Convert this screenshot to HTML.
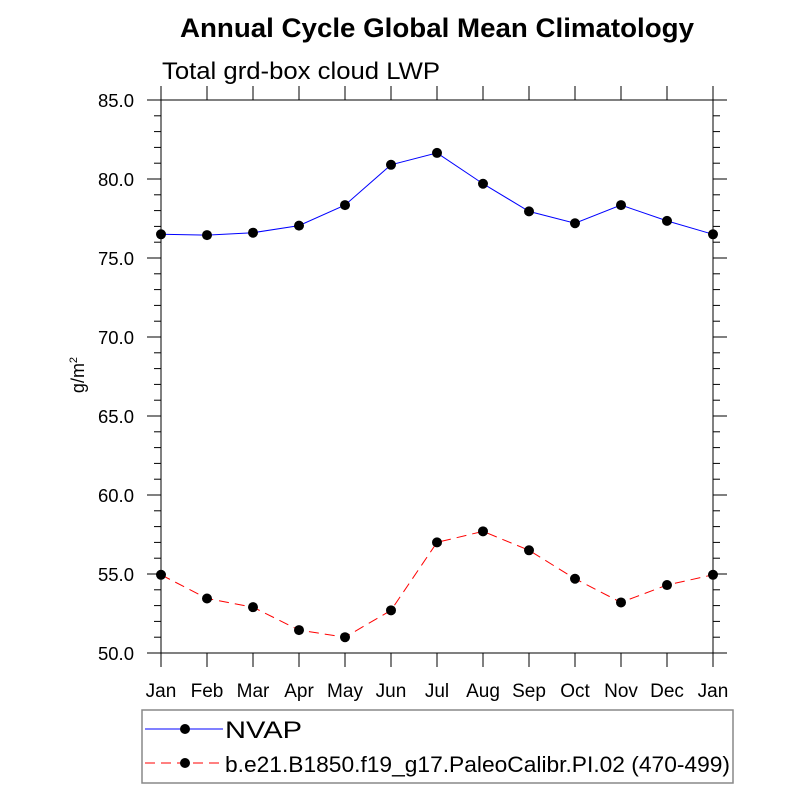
<!DOCTYPE html>
<html><head><meta charset="utf-8"><style>
body{margin:0;background:#fff;}
svg{display:block;font-family:"Liberation Sans",sans-serif;}
</style></head><body>
<svg id="chart" width="800" height="800">
<text x="180" y="37" font-size="27" font-weight="bold" textLength="514" lengthAdjust="spacingAndGlyphs">Annual Cycle Global Mean Climatology</text>
<text x="162" y="79" font-size="24" textLength="278" lengthAdjust="spacingAndGlyphs">Total grd-box cloud LWP</text>
<text transform="translate(84,375) rotate(-90)" text-anchor="middle" font-size="18">g/m<tspan dy="-7" font-size="11">2</tspan></text>
<g id="axes"></g>
<g id="series"></g>
<g>
<rect x="142" y="710" width="591" height="73" fill="#fff" stroke="#888" stroke-width="1.5"/>
<g>
<line x1="145" y1="729" x2="223" y2="729" stroke="#0000ff" stroke-width="1"/>
<circle cx="185" cy="729" r="5" fill="#000"/>
<text x="225" y="738" font-size="24" textLength="77" lengthAdjust="spacingAndGlyphs">NVAP</text></g>
<g>
<line x1="145" y1="763" x2="223" y2="763" stroke="#ff0000" stroke-width="1" stroke-dasharray="10,6"/>
<circle cx="185" cy="763" r="5" fill="#000"/>
<text x="225" y="772" font-size="22" textLength="505" lengthAdjust="spacingAndGlyphs">b.e21.B1850.f19_g17.PaleoCalibr.PI.02 (470-499)</text></g>
</g>
</svg>
<script>
const months = ["Jan","Feb","Mar","Apr","May","Jun","Jul","Aug","Sep","Oct","Nov","Dec","Jan"];
const nvap = [76.5,76.45,76.6,77.05,78.35,80.9,81.65,79.7,77.95,77.2,78.35,77.35,76.5];
const model = [54.95,53.45,52.9,51.45,51.0,52.7,57.0,57.7,56.5,54.7,53.2,54.3,54.95];
const yTicks = [50,55,60,65,70,75,80,85];
const yLabels = ["50.0","55.0","60.0","65.0","70.0","75.0","80.0","85.0"];
const NS="http://www.w3.org/2000/svg";
const L=161,R=713,T=100,B=653,yMin=50,yMax=85;
const xs=i=>L+(R-L)*i/(months.length-1);
const ys=v=>B-(v-yMin)/(yMax-yMin)*(B-T);
function mk(t,a,p){const e=document.createElementNS(NS,t);for(const k in a)e.setAttribute(k,a[k]);p.appendChild(e);return e;}
const ax=document.getElementById('axes');
const frame=mk('rect',{x:L,y:T,width:R-L,height:B-T,fill:'none',stroke:'#000','stroke-width':1},ax);


months.forEach((m,i)=>{const x=xs(i);
mk('line',{x1:x,y1:B,x2:x,y2:B+14,stroke:'#000'},ax);
mk('line',{x1:x,y1:T,x2:x,y2:T-14,stroke:'#000'},ax);
const t=mk('text',{x:x,y:B+44,'text-anchor':'middle','font-size':19},ax);t.textContent=m;

});
for(let v=yMin;v<=yMax+0.001;v+=1){const y=ys(v);const major=Math.abs(v%5)<0.01;const len=major?14:7;
mk('line',{x1:L-len,y1:y,x2:L,y2:y,stroke:'#000'},ax);
mk('line',{x1:R,y1:y,x2:R+len,y2:y,stroke:'#000'},ax);}
yTicks.forEach((v,i)=>{const t=mk('text',{x:134,y:ys(v)+7,'text-anchor':'end','font-size':18.5},ax);t.textContent=yLabels[i];

});
const sg=document.getElementById('series');
function series(data,color,dash,name){const g=mk('g',{},sg);


const p=mk('polyline',{points:data.map((v,i)=>xs(i)+','+ys(v)).join(' '),fill:'none',stroke:color,'stroke-width':1},g);
if(dash)p.setAttribute('stroke-dasharray',dash);
data.forEach((v,i)=>{const c=mk('circle',{cx:xs(i),cy:ys(v),r:5,fill:'#000'},g);

});}
series(nvap,'#0000ff',null,'series-nvap');
series(model,'#ff0000','10,6','series-model');
</script>
</body></html>
